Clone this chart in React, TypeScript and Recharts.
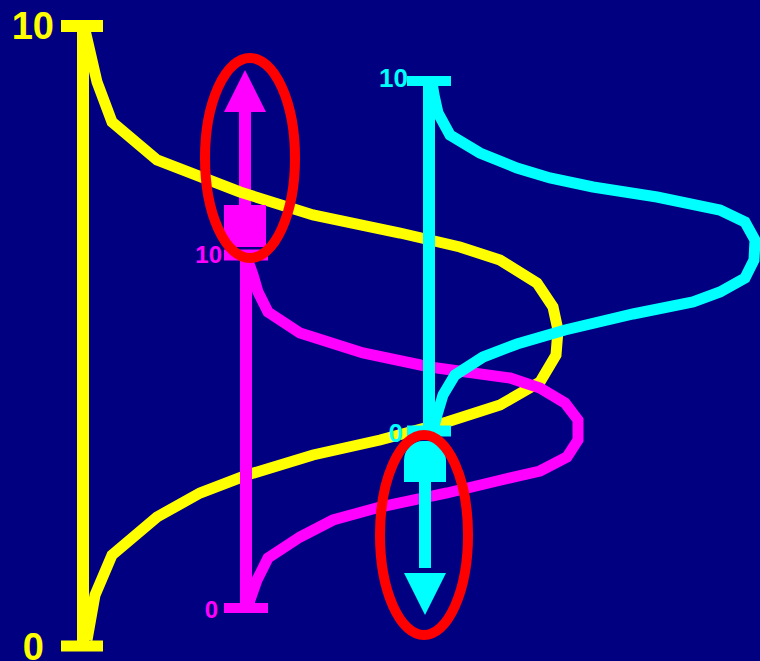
import { ScatterChart, Scatter, XAxis, YAxis } from 'recharts'

// frame: x = pixels right of the yellow axis, y = pixels up from its 0 tick
const YELLOW = '#ffff00'
const MAGENTA = '#ff00ff'
const CYAN = '#00ffff'
const RED = '#ff0000'
const NAVY = '#000080'
const FONT = '"Liberation Sans", Arial, sans-serif'

const yellowAxis = [{ x: 0, y: 0 }, { x: 0, y: 620 }]
const yellowTopCap = [{ x: -22, y: 620 }, { x: 20, y: 620 }]
const yellowBottomCap = [{ x: -22, y: 0 }, { x: 20, y: 0 }]
const yellowCurve = [
  { x: 2, y: 616 }, { x: 14, y: 564 }, { x: 29, y: 524 }, { x: 74, y: 486 },
  { x: 157, y: 454 }, { x: 230, y: 431 }, { x: 317, y: 413 }, { x: 377, y: 399 },
  { x: 417, y: 386 }, { x: 454, y: 363 }, { x: 470, y: 339 }, { x: 475, y: 316 },
  { x: 473, y: 291 }, { x: 457, y: 264 }, { x: 417, y: 241 }, { x: 364, y: 224 },
  { x: 297, y: 206 }, { x: 230, y: 191 }, { x: 164, y: 171 }, { x: 117, y: 153 },
  { x: 74, y: 129 }, { x: 29, y: 91 }, { x: 12, y: 51 }, { x: 4, y: 6 },
]
const yellowLabels = [
  { x: -29, y: 607, text: '10' },
  { x: -39, y: -14, text: '0' },
]

const magentaAxis = [{ x: 163, y: 38 }, { x: 163, y: 391 }]
const magentaTopCap = [{ x: 141, y: 391 }, { x: 185, y: 391 }]
const magentaBottomCap = [{ x: 141, y: 38 }, { x: 185, y: 38 }]
const magentaCurve = [
  { x: 164, y: 388 }, { x: 170, y: 371 }, { x: 175, y: 354 }, { x: 185, y: 334 },
  { x: 217, y: 313 }, { x: 280, y: 293 }, { x: 347, y: 279 }, { x: 427, y: 268 },
  { x: 457, y: 258 }, { x: 482, y: 243 }, { x: 495, y: 226 }, { x: 495, y: 206 },
  { x: 484, y: 189 }, { x: 457, y: 175 }, { x: 414, y: 165 }, { x: 364, y: 153 },
  { x: 297, y: 139 }, { x: 250, y: 126 }, { x: 217, y: 109 }, { x: 185, y: 88 },
  { x: 174, y: 66 }, { x: 167, y: 46 }, { x: 165, y: 38 },
]
const magentaLabels = [
  { x: 139, y: 383, text: '10' },
  { x: 135, y: 28, text: '0' },
]
const magentaMarker = [{ x: 162, y: 420 }]
const magentaShaft = [{ x: 162, y: 420 }, { x: 162, y: 545 }]
const magentaTip = [{ x: 162, y: 576 }]

const cyanAxis = [{ x: 346, y: 215 }, { x: 346, y: 565 }]
const cyanTopCap = [{ x: 324, y: 565 }, { x: 368, y: 565 }]
const cyanBottomCap = [{ x: 324, y: 215 }, { x: 368, y: 215 }]
const cyanCurve = [
  { x: 349, y: 564 }, { x: 351, y: 551 }, { x: 355, y: 533 }, { x: 367, y: 511 },
  { x: 397, y: 493 }, { x: 434, y: 478 }, { x: 467, y: 468 }, { x: 510, y: 459 },
  { x: 574, y: 449 }, { x: 637, y: 436 }, { x: 662, y: 424 }, { x: 672, y: 406 },
  { x: 671, y: 386 }, { x: 662, y: 368 }, { x: 637, y: 354 }, { x: 610, y: 344 },
  { x: 550, y: 332 }, { x: 482, y: 316 }, { x: 434, y: 302 }, { x: 400, y: 289 },
  { x: 372, y: 271 }, { x: 360, y: 251 }, { x: 354, y: 231 }, { x: 350, y: 216 },
]
const cyanLabels = [
  { x: 325, y: 559, text: '10' },
  { x: 320, y: 204, text: '0' },
]
const cyanMarker = [{ x: 342, y: 185 }]
const cyanShaft = [{ x: 342, y: 165 }, { x: 342, y: 78 }]
const cyanTip = [{ x: 342, y: 31 }]

const upperRing = [{ x: 167, y: 488 }]
const lowerRing = [{ x: 341, y: 111 }]

const Blank = () => <g />

const arrowHead = (color: string, up: boolean) => (p: any) => {
  const d = up ? 42 : -42
  return (
    <polygon
      points={`${p.cx},${p.cy} ${p.cx - 21},${p.cy + d} ${p.cx + 21},${p.cy + d}`}
      fill={color}
    />
  )
}

const squareMarker = (p: any) => (
  <rect x={p.cx - 21} y={p.cy - 21} width={42} height={42} fill={MAGENTA} />
)

const domeMarker = (p: any) => {
  const l = p.cx - 21
  const r = p.cx + 21
  const t = p.cy - 20
  const b = p.cy + 21
  const k = 19
  return (
    <path
      d={`M${l},${t + k} A${k},${k} 0 0 1 ${l + k},${t} L${r - k},${t} A${k},${k} 0 0 1 ${r},${t + k} L${r},${b} L${l},${b} Z`}
      fill={CYAN}
    />
  )
}

const ring = (rx: number, ry: number) => (p: any) => (
  <ellipse cx={p.cx} cy={p.cy} rx={rx} ry={ry} fill="none" stroke={RED} strokeWidth={10} />
)

const label = (color: string, size: number) => (p: any) => (
  <text
    x={p.cx}
    y={p.cy}
    textAnchor="end"
    fill={color}
    fontSize={size}
    fontWeight="bold"
    fontFamily={FONT}
  >
    {p.payload.text}
  </text>
)

export default function App() {
  const seg = (data: { x: number; y: number }[], color: string, width: number) => (
    <Scatter
      data={data}
      line={{ stroke: color, strokeWidth: width }}
      shape={Blank}
      isAnimationActive={false}
    />
  )

  return (
    <div style={{ position: 'absolute', left: 0, top: 0, width: 760, height: 661, background: NAVY }}>
      <ScatterChart width={760} height={661} margin={{ top: 0, right: 0, bottom: 0, left: 0 }}>
        <XAxis type="number" dataKey="x" domain={[-83, 677]} allowDataOverflow hide />
        <YAxis type="number" dataKey="y" domain={[-15, 646]} allowDataOverflow hide />

        {seg(magentaShaft, MAGENTA, 12)}
        <Scatter data={magentaTip} shape={arrowHead(MAGENTA, true)} isAnimationActive={false} />

        {seg(yellowAxis, YELLOW, 12)}
        {seg(yellowTopCap, YELLOW, 12)}
        {seg(yellowBottomCap, YELLOW, 11)}
        {seg(yellowCurve, YELLOW, 11)}

        {seg(magentaAxis, MAGENTA, 12)}
        {seg(magentaTopCap, MAGENTA, 11)}
        {seg(magentaBottomCap, MAGENTA, 10)}
        {seg(magentaCurve, MAGENTA, 11)}
        <Scatter data={magentaMarker} shape={squareMarker} isAnimationActive={false} />

        {seg(cyanAxis, CYAN, 12)}
        {seg(cyanTopCap, CYAN, 10)}
        {seg(cyanBottomCap, CYAN, 11)}
        {seg(cyanCurve, CYAN, 11)}
        <Scatter data={cyanMarker} shape={domeMarker} isAnimationActive={false} />
        {seg(cyanShaft, CYAN, 12)}
        <Scatter data={cyanTip} shape={arrowHead(CYAN, false)} isAnimationActive={false} />

        <Scatter data={yellowLabels} shape={label(YELLOW, 38)} isAnimationActive={false} />
        <Scatter data={magentaLabels} shape={label(MAGENTA, 24)} isAnimationActive={false} />
        <Scatter data={cyanLabels} shape={label(CYAN, 26)} isAnimationActive={false} />

        <Scatter data={upperRing} shape={ring(45, 100)} isAnimationActive={false} />
        <Scatter data={lowerRing} shape={ring(44, 100)} isAnimationActive={false} />
      </ScatterChart>
    </div>
  )
}
